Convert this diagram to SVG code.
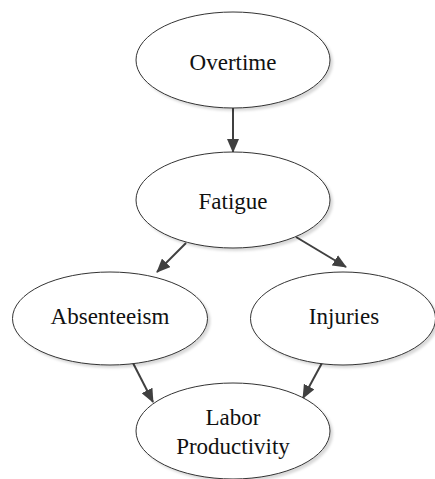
<svg xmlns="http://www.w3.org/2000/svg" width="435" height="479" viewBox="0 0 435 479">
<style>
.node ellipse{fill:#ffffff;stroke:#333333;stroke-width:1;filter:url(#sh)}
.node text{font-family:'Liberation Serif',serif;font-size:23px;fill:#111111;text-anchor:middle}
.edge{stroke:#404040;stroke-width:2;fill:none;marker-end:url(#ah)}
</style>
<defs>
<filter id="sh" x="-10%" y="-10%" width="130%" height="130%">
<feDropShadow dx="2.5" dy="2.5" stdDeviation="1.2" flood-color="#000000" flood-opacity="0.15"/>
</filter>
<marker id="ah" markerWidth="14" markerHeight="12" refX="13" refY="6" orient="auto" markerUnits="userSpaceOnUse">
<path d="M0,0 L14,6 L0,12 Z" fill="#404040"/>
</marker>
</defs>
<rect width="435" height="479" fill="#ffffff"/>
<g id="connectors">
<line class="edge" x1="233" y1="108" x2="233" y2="152"/>
<line class="edge" x1="186" y1="243" x2="157" y2="272"/>
<line class="edge" x1="296" y1="237" x2="346" y2="267"/>
<line class="edge" x1="133" y1="363" x2="153" y2="402"/>
<line class="edge" x1="322" y1="363" x2="303" y2="398"/>
</g>
<g id="overtime" class="node">
<ellipse cx="233" cy="60" rx="97" ry="48"/>
<text x="233" y="70">Overtime</text>
</g>
<g id="fatigue" class="node">
<ellipse cx="233" cy="200" rx="97" ry="48"/>
<text x="233" y="209">Fatigue</text>
</g>
<g id="absenteeism" class="node">
<ellipse cx="110" cy="318.5" rx="97.5" ry="46.5"/>
<text x="110" y="324">Absenteeism</text>
</g>
<g id="injuries" class="node">
<ellipse cx="343" cy="318.5" rx="92.5" ry="46.5"/>
<text x="344" y="324">Injuries</text>
</g>
<g id="labor-productivity" class="node">
<ellipse cx="233" cy="431" rx="97" ry="48"/>
<text x="233" y="425">Labor</text>
<text x="233" y="454">Productivity</text>
</g>
</svg>
